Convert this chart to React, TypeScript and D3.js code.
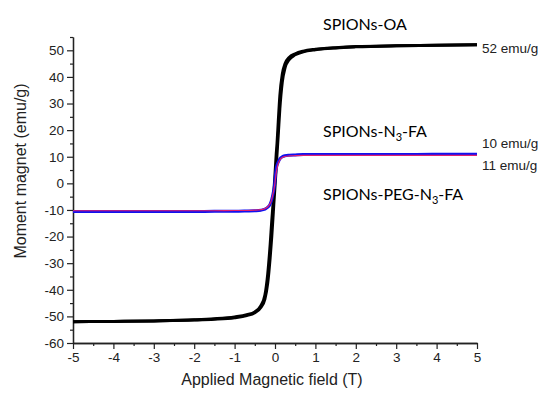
import { useEffect, useRef } from 'react';
import * as d3 from 'd3';

// applied field (T), shared by every branch
const field = [-5, -4, -3, -2, -1.5, -1, -0.7, -0.5, -0.35, -0.25, -0.18, -0.12, -0.08, -0.05, -0.03, -0.01,
  0.01, 0.03, 0.05, 0.08, 0.12, 0.18, 0.25, 0.35, 0.5, 0.7, 1, 1.5, 2, 3, 4, 5];

// SPIONs-OA, ascending and descending branch (emu/g)
const oaUp = [-52, -51.9, -51.7, -51.4, -51.1, -50.5, -49.7, -48.6, -46.6, -43.5, -37.5, -28, -20, -13, -8, -3.5,
  1, 6, 11, 18, 28, 38, 43.5, 46.5, 48.3, 49.4, 50.2, 50.9, 51.3, 51.7, 51.9, 52.1];
const oaDown = [-52, -51.9, -51.7, -51.3, -50.9, -50.2, -49.4, -48.3, -46, -42, -34, -23, -14, -8, -3.5, 1,
  6, 11, 15, 23, 33, 41, 45, 47.3, 48.7, 49.7, 50.4, 51, 51.4, 51.7, 51.9, 52.1];

// SPIONs-N3-FA (red) and SPIONs-PEG-N3-FA (blue)
const n3fa = [-10.3, -10.3, -10.3, -10.3, -10.3, -10.2, -10.2, -10.1, -9.9, -9.5, -8.8, -7.6, -5.9, -4, -2.6, -0.8,
  1.5, 4, 5.6, 7.4, 8.8, 9.7, 10.1, 10.3, 10.4, 10.5, 10.5, 10.5, 10.5, 10.5, 10.5, 10.5];
const pegN3fa = [-10.6, -10.6, -10.6, -10.6, -10.5, -10.5, -10.4, -10.3, -10.1, -9.7, -9, -7.8, -6, -4, -2.5, -0.5,
  3, 5.5, 6.8, 8, 9.2, 10, 10.4, 10.6, 10.7, 10.8, 10.8, 10.8, 10.8, 10.8, 10.9, 10.9];

const xTicks = [-5, -4, -3, -2, -1, 0, 1, 2, 3, 4, 5];
const xMinor = [-4.5, -3.5, -2.5, -1.5, -0.5, 0.5, 1.5, 2.5, 3.5, 4.5];
const yTicks = [-60, -50, -40, -30, -20, -10, 0, 10, 20, 30, 40, 50];
const yMinor = [-55, -45, -35, -25, -15, -5, 5, 15, 25, 35, 45, 55];

const W = 556, H = 393;

export default function App() {
  const ref = useRef<SVGSVGElement | null>(null);
  useEffect(() => {
    const svg = d3.select(ref.current!);
    svg.selectAll('*').remove();
    const margin = { top: 37, right: 79, bottom: 50, left: 73 };
    const iw = W - margin.left - margin.right;
    const ih = H - margin.top - margin.bottom;
    const g = svg.append('g').attr('transform', `translate(${margin.left},${margin.top})`);

    const x = d3.scaleLinear().domain([-5, 5]).range([0, iw]);
    const y = d3.scaleLinear().domain([-60, 55]).range([ih, 0]);
    const axisFont = 'Liberation Sans, Arial, sans-serif';
    const fmt = (d: any) => String(d);

    const styleAxis = (s: any) => {
      s.select('.domain').attr('stroke', '#222').attr('stroke-width', 1.3);
      s.selectAll('.tick line').attr('stroke', '#222').attr('stroke-width', 1.2);
      s.selectAll('text').attr('font-size', 13.5).attr('fill', '#222').attr('font-family', axisFont);
    };

    g.append('g').attr('transform', `translate(0,${ih})`)
      .call(d3.axisBottom(x).tickValues(xMinor).tickSize(3).tickFormat(() => '').tickSizeOuter(0))
      .call(styleAxis);
    g.append('g').attr('transform', `translate(0,${ih})`)
      .call(d3.axisBottom(x).tickValues(xTicks).tickSize(6).tickPadding(3).tickSizeOuter(0).tickFormat(fmt))
      .call(styleAxis);
    g.append('g')
      .call(d3.axisLeft(y).tickValues(yMinor).tickSize(3).tickFormat(() => '').tickSizeOuter(0))
      .call(styleAxis);
    g.append('g')
      .call(d3.axisLeft(y).tickValues(yTicks).tickSize(6).tickPadding(3).tickSizeOuter(0).tickFormat(fmt))
      .call(styleAxis);

    const line = d3.line<number>().x((_, i) => x(field[i])).y((d) => y(d)).curve(d3.curveMonotoneX);

    g.append('path').attr('d', line(oaUp)).attr('fill', 'none').attr('stroke', '#000').attr('stroke-width', 3);
    g.append('path').attr('d', line(oaDown)).attr('fill', 'none').attr('stroke', '#000').attr('stroke-width', 3);
    g.append('path').attr('d', line(pegN3fa)).attr('fill', 'none').attr('stroke', '#1010f0').attr('stroke-width', 3);
    g.append('path').attr('d', line(n3fa)).attr('fill', 'none').attr('stroke', '#e0206e').attr('stroke-width', 1.2);

    // series annotations
    const lab = svg.append('g').attr('font-family', 'Lato, Open Sans, sans-serif').attr('font-size', 16).attr('fill', '#000');
    lab.append('text').attr('x', 323).attr('y', 30).text('SPIONs-OA');
    const t2 = lab.append('text').attr('x', 323).attr('y', 137);
    t2.append('tspan').text('SPIONs-N');
    t2.append('tspan').attr('font-size', 11).attr('dy', 4).text('3');
    t2.append('tspan').attr('dy', -4).text('-FA');
    const t3 = lab.append('text').attr('x', 323).attr('y', 200);
    t3.append('tspan').text('SPIONs-PEG-N');
    t3.append('tspan').attr('font-size', 11).attr('dy', 4).text('3');
    t3.append('tspan').attr('dy', -4).text('-FA');

    const emu = svg.append('g').attr('font-family', axisFont).attr('font-size', 13.5).attr('fill', '#222');
    emu.append('text').attr('x', 482).attr('y', 53).text('52 emu/g');
    emu.append('text').attr('x', 482).attr('y', 148).text('10 emu/g');
    emu.append('text').attr('x', 482).attr('y', 170).text('11 emu/g');

    svg.append('text').attr('x', 272).attr('y', 385).attr('text-anchor', 'middle')
      .attr('font-family', axisFont).attr('font-size', 16).attr('fill', '#222').text('Applied Magnetic field (T)');
    svg.append('text').attr('transform', `translate(26,${171}) rotate(-90)`).attr('text-anchor', 'middle')
      .attr('font-family', axisFont).attr('font-size', 16).attr('fill', '#222').text('Moment magnet (emu/g)');
  }, []);
  return <svg ref={ref} width={W} height={H} style={{ position: 'absolute', left: 0, top: 0, background: '#fff' }} />;
}
